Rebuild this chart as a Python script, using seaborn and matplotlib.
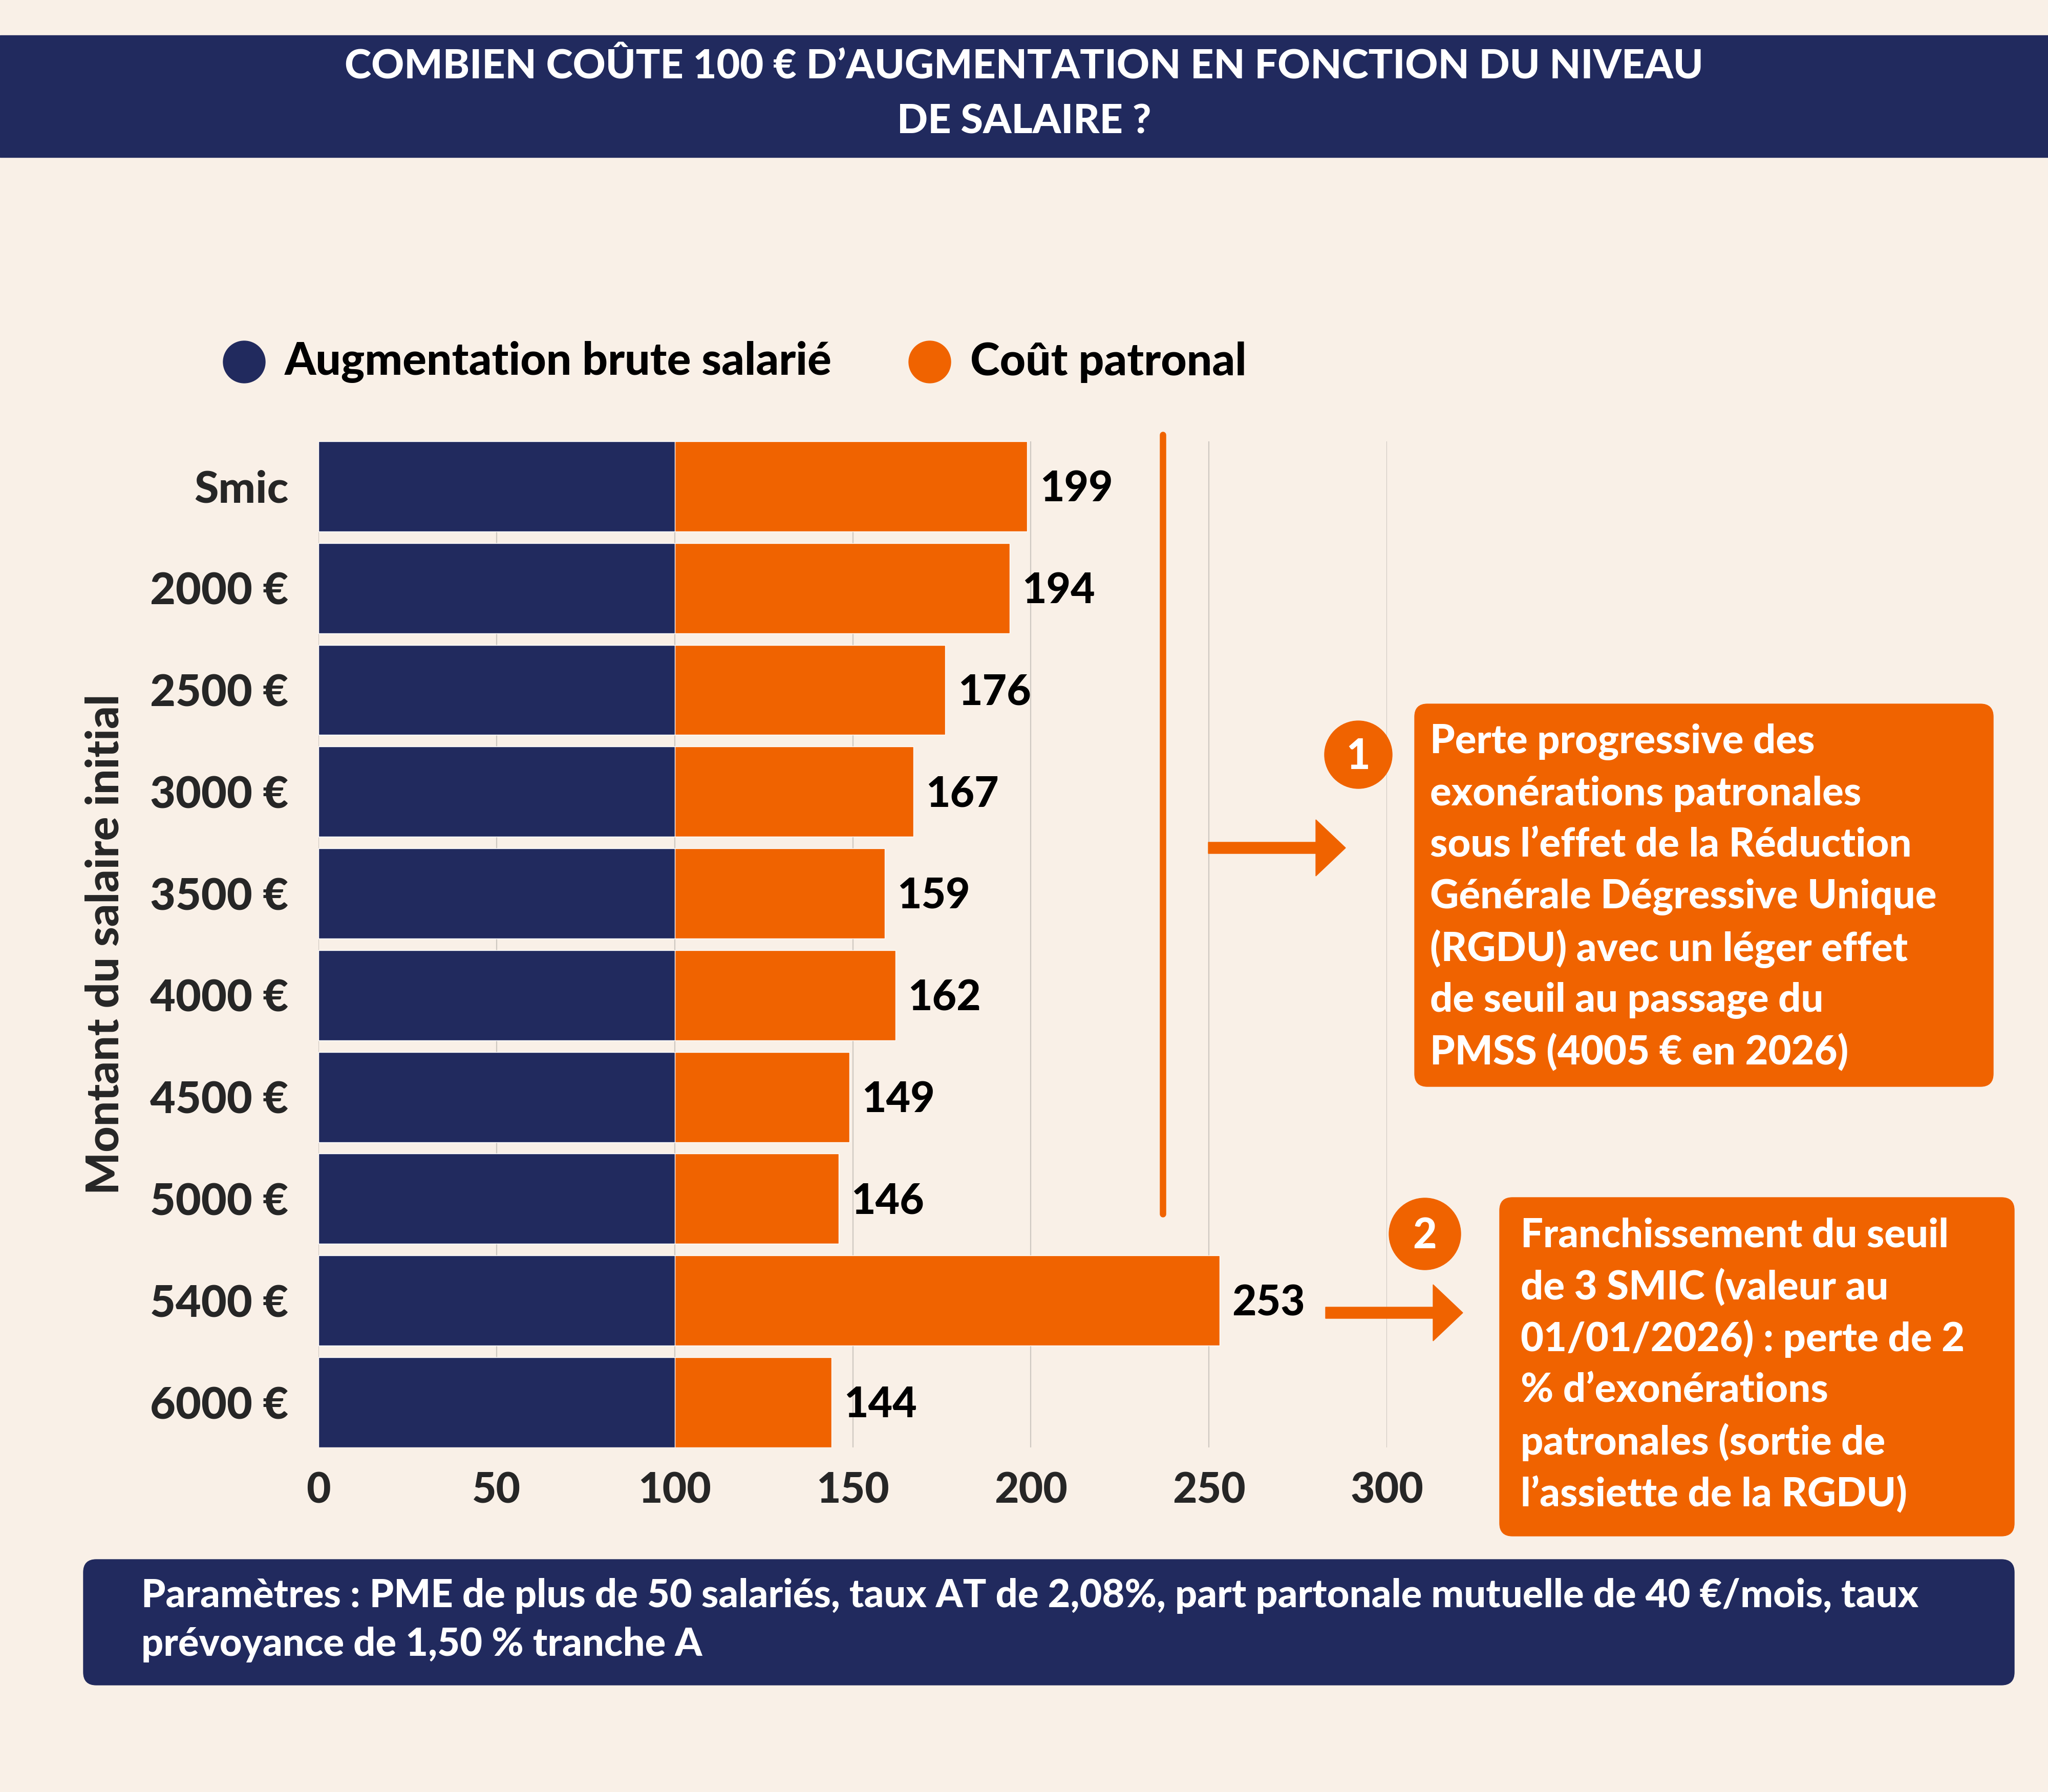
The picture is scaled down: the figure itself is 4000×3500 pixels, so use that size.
import matplotlib
matplotlib.use('Agg')
import matplotlib.pyplot as plt
from matplotlib.patches import FancyBboxPatch, Circle, FancyArrow
import seaborn as sns

# data
categories = ['Smic', '2000 €', '2500 €', '3000 €', '3500 €', '4000 €',
              '4500 €', '5000 €', '5400 €', '6000 €']
augmentation_brute = [100, 100, 100, 100, 100, 100, 100, 100, 100, 100]
cout_patronal = [199, 194, 176, 167, 159, 162, 149, 146, 253, 144]
x_ticks = [0, 50, 100, 150, 200, 250, 300]

NAVY = '#212A5E'
ORANGE = '#F06300'
BG = '#F9F0E7'
GRID = '#CEC8C1'
W = 'black'  # font weight

sns.set_theme(style='white')
plt.rcParams['font.family'] = ['Lato', 'DejaVu Sans']
plt.rcParams['font.weight'] = W

fig = plt.figure(figsize=(40, 35), dpi=100, facecolor=BG)
ax = fig.add_axes([0.1555, 0.19229, 0.52175, 0.56143])
ax.set_facecolor(BG)

sns.barplot(x=cout_patronal, y=categories, orient='h', color=ORANGE,
            saturation=1, width=0.885, ax=ax, zorder=2)
sns.barplot(x=augmentation_brute, y=categories, orient='h', color=NAVY,
            saturation=1, width=0.885, ax=ax, zorder=3)

ax.set_xlim(0, 300)
ax.set_ylim(9.4425, -0.4425)
ax.set_xticks(x_ticks)
ax.set_xticklabels([str(t) for t in x_ticks], fontsize=59, fontweight=W)
ax.tick_params(axis='x', length=0, pad=34)
ax.tick_params(axis='y', length=0, pad=42, labelsize=62)
for lab in ax.get_yticklabels():
    lab.set_fontweight(W)
ax.grid(axis='x', color=GRID, linewidth=1.6, zorder=0)
ax.set_axisbelow(True)
for s in ax.spines.values():
    s.set_visible(False)
ax.set_xlabel('')
ax.set_ylabel('Montant du salaire initial', fontsize=63, fontweight=W, labelpad=34)

for i, v in enumerate(cout_patronal):
    ax.text(v + 3.5, i + 0.03, str(v), va='center', ha='left', fontsize=59,
            fontweight=W, color='black')

# vertical marker line
ax.plot([237, 237], [-0.506, 7.147], color=ORANGE, linewidth=9,
        solid_capstyle='round', clip_on=False, zorder=4)

# overlay in pixel coordinates
ov = fig.add_axes([0, 0, 1, 1], zorder=5)
ov.set_xlim(0, 4000)
ov.set_ylim(3500, 0)
ov.axis('off')
ov.patch.set_alpha(0)

# header banner
ov.add_patch(plt.Rectangle((0, 69), 4000, 238, color=NAVY))
ov.text(2000, 130, 'COMBIEN COÛTE 100 € D’AUGMENTATION EN FONCTION DU NIVEAU',
        ha='center', va='center', color='white', fontsize=57, fontweight=W)
ov.text(2000, 238, 'DE SALAIRE ?', ha='center', va='center', color='white',
        fontsize=57, fontweight=W)

# legend
ov.add_patch(Circle((477, 707), 41, color=NAVY))
ov.text(556, 707, 'Augmentation brute salarié', va='center', ha='left',
        fontsize=63, fontweight=W, color='black')
ov.add_patch(Circle((1816, 707), 41, color=ORANGE))
ov.text(1895, 707, 'Coût patronal', va='center', ha='left',
        fontsize=63, fontweight=W, color='black')

# annotation 1
ov.add_patch(FancyArrow(2360, 1656, 210, 0, width=22, head_width=110,
                        head_length=58, color=ORANGE))
ov.add_patch(Circle((2653, 1474), 66, color=ORANGE))
ov.text(2653, 1478, '1', ha='center', va='center', color='white', fontsize=58,
        fontweight=W)
ov.add_patch(FancyBboxPatch((2763, 1375), 1130, 747,
                            boxstyle='round,pad=0,rounding_size=25', color=ORANGE))
lines1 = ['Perte progressive des', 'exonérations patronales',
          'sous l’effet de la Réduction', 'Générale Dégressive Unique',
          '(RGDU) avec un léger effet', 'de seuil au passage du',
          'PMSS (4005 € en 2026)']
for k, line in enumerate(lines1):
    ov.text(2793, 1449 + k * 101, line, ha='left', va='center', color='white',
            fontsize=56, fontweight=W)

# annotation 2
ov.add_patch(FancyArrow(2589, 2564, 210, 0, width=22, head_width=110,
                        head_length=58, color=ORANGE))
ov.add_patch(Circle((2783, 2410), 70, color=ORANGE))
ov.text(2783, 2414, '2', ha='center', va='center', color='white', fontsize=58,
        fontweight=W)
ov.add_patch(FancyBboxPatch((2929, 2339), 1005, 661,
                            boxstyle='round,pad=0,rounding_size=25', color=ORANGE))
lines2 = ['Franchissement du seuil', 'de 3 SMIC (valeur au',
          '01/01/2026) : perte de 2', '% d’exonérations',
          'patronales (sortie de', 'l’assiette de la RGDU)']
for k, line in enumerate(lines2):
    ov.text(2970, 2413 + k * 101, line, ha='left', va='center', color='white',
            fontsize=56, fontweight=W)

# footer
ov.add_patch(FancyBboxPatch((163, 3046), 3771, 245,
                            boxstyle='round,pad=0,rounding_size=25', color=NAVY))
ov.text(276, 3117, 'Paramètres : PME de plus de 50 salariés, taux AT de 2,08%, '
        'part partonale mutuelle de 40 €/mois, taux', ha='left', va='center',
        color='white', fontsize=54.5, fontweight=W)
ov.text(276, 3212, 'prévoyance de 1,50 % tranche A', ha='left', va='center',
        color='white', fontsize=54.5, fontweight=W)

fig.savefig('out.png', dpi=100, facecolor=BG)
